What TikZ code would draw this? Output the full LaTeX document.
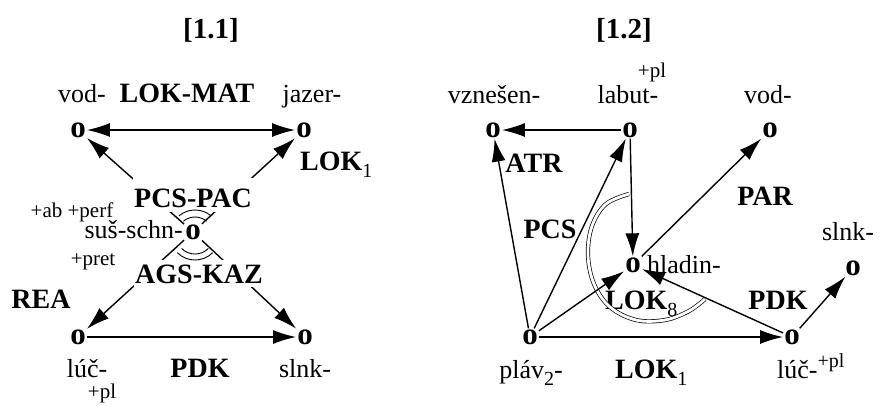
\documentclass[tikz,border=0pt]{standalone}
\usepackage{fontspec}
\setmainfont{Liberation Serif}
\usetikzlibrary{arrows.meta}
\newcommand{\sbs}[1]{\raisebox{-7pt}{\fontsize{20}{22}\mdseries\selectfont #1}}
\newcommand{\sps}[1]{\raisebox{11pt}{\fontsize{20}{22}\mdseries\selectfont #1}}
\begin{document}
\begin{tikzpicture}[x=1pt,y=-1pt,
  txt/.style={font=\fontsize{26}{28}\selectfont, inner sep=0pt},
  lbl/.style={font=\fontsize{28}{30}\selectfont\bfseries, inner sep=0pt},
  ttl/.style={font=\fontsize{29}{31}\selectfont\bfseries, inner sep=0pt},
  sml/.style={font=\fontsize{21}{23}\selectfont, inner sep=0pt},
  pt/.style={font=\fontsize{31}{33}\selectfont\bfseries, inner sep=1pt},
  cover/.style={lbl, fill=white, inner xsep=1pt, inner ysep=0pt},
  tip/.tip={Latex[length=23pt,width=14pt]},
  arr/.style={line width=1.4pt, -tip},
  dbl/.style={line width=1.4pt, tip-tip},
  arcline/.style={line width=0.9pt},
  dblarc/.style={double, line width=0.7pt, double distance=2.8pt}
]
\useasboundingbox (0,0) rectangle (881,405);

% titles
\node[ttl] (t1) at (211,30) {[1.1]};
\node[ttl] (t2) at (624,30) {[1.2]};

% ===== left diagram =====
\node[pt] (a1) at (78,130) {o};
\node[pt] (a2) at (304,130) {o};
\node[pt] (ac) at (193,232) {o};
\node[pt] (a3) at (78,337) {o};
\node[pt] (a4) at (305,337) {o};

\node[txt, anchor=base] (l1) at (82,102) {vod-};
\node[lbl, anchor=base] (l2) at (187,102) {LOK-MAT};
\node[txt, anchor=base] (l3) at (312,102) {jazer-};
\node[lbl, anchor=base west] (l4) at (300,170) {LOK\sbs{1}};
\node[sml, anchor=base] (l5) at (72,217) {+ab +perf};
\node[txt, anchor=base east] (l6) at (183,238) {suš-schn-};
\node[sml, anchor=base] (l7) at (93,265) {+pret};
\node[lbl, anchor=base] (l8) at (41,308) {REA};
\node[txt, anchor=base] (l9) at (87,377) {lúč-};
\node[lbl, anchor=base] (l10) at (200,377) {PDK};
\node[txt, anchor=base] (l11) at (305,377) {slnk-};
\node[sml, anchor=base] (l12) at (102,398) {+pl};

\draw[dbl] (a1) -- (a2);
\draw[arr] (ac) -- (a1);
\draw[arr] (ac) -- (a2);
\draw[arr] (ac) -- (a3);
\draw[arr] (ac) -- (a4);
\draw[arr] (a3) -- (a4);

\node[cover, anchor=base, text height=29pt, text depth=5pt] (pcs) at (193,207) {PCS-PAC};
\node[cover, anchor=base, text height=23pt, text depth=4pt] (ags) at (199,283) {AGS-KAZ};

\coordinate (ao) at (195,235);
\draw[arcline] ([shift={(50:18pt)}]ao) arc[start angle=50, end angle=130, radius=18pt];
\draw[arcline] ([shift={(50:25pt)}]ao) arc[start angle=50, end angle=130, radius=25pt];
\draw[arcline] ([shift={(225:19pt)}]ao) arc[start angle=225, end angle=315, radius=19pt];
\draw[arcline] ([shift={(225:25pt)}]ao) arc[start angle=225, end angle=315, radius=25pt];

% ===== right diagram =====
\node[pt] (b1) at (493,130) {o};
\node[pt] (b2) at (630,130) {o};
\node[pt] (b3) at (770,130) {o};
\node[pt] (bh) at (633,265) {o};
\node[pt] (bs) at (853,268) {o};
\node[pt] (bp) at (530,337) {o};
\node[pt] (bl) at (792,337) {o};

\node[txt, anchor=base] (r1) at (494,103) {vznešen-};
\node[txt, anchor=base] (r2) at (628,103) {labut-};
\node[sml, anchor=base] (r3) at (652,77) {+pl};
\node[txt, anchor=base] (r4) at (768,103) {vod-};
\node[lbl, anchor=base] (r5) at (534,172) {ATR};
\node[lbl, anchor=base] (r6) at (550,238) {PCS};
\node[lbl, anchor=base] (r7) at (765,205) {PAR};
\node[txt, anchor=base] (r8) at (848,240) {slnk-};
\node[txt, anchor=base west] (r9) at (647,273) {hladin-};
\node[lbl, anchor=base west] (r10) at (605,309) {LOK\sbs{8}};
\node[lbl, anchor=base] (r11) at (778,309) {PDK};
\node[txt, anchor=base] (r12) at (531,378) {pláv\sbs{2}-};
\node[lbl, anchor=base west] (r13) at (615,378) {LOK\sbs{1}};
\node[txt, anchor=base west] (r14) at (777,378) {lúč-\sps{+pl}};

\draw[dblarc] plot[smooth, tension=0.6] coordinates {(629,194) (606,204) (592,226) (588,255) (594,284) (610,307) (636,320) (665,320) (689,311) (705,299)};

\draw[arr] (b2) -- (b1);
\draw[arr] (bp) -- (b1);
\draw[arr] (bp) -- (b2);
\draw[arr] (b2) -- (bh);
\draw[arr] (bh) -- (b3);
\draw[arr] (bp) -- (bh);
\draw[arr] (bl) -- (bh);
\draw[arr] (bl) -- (bs);
\draw[arr] (bp) -- (bl);
\end{tikzpicture}
\end{document}
